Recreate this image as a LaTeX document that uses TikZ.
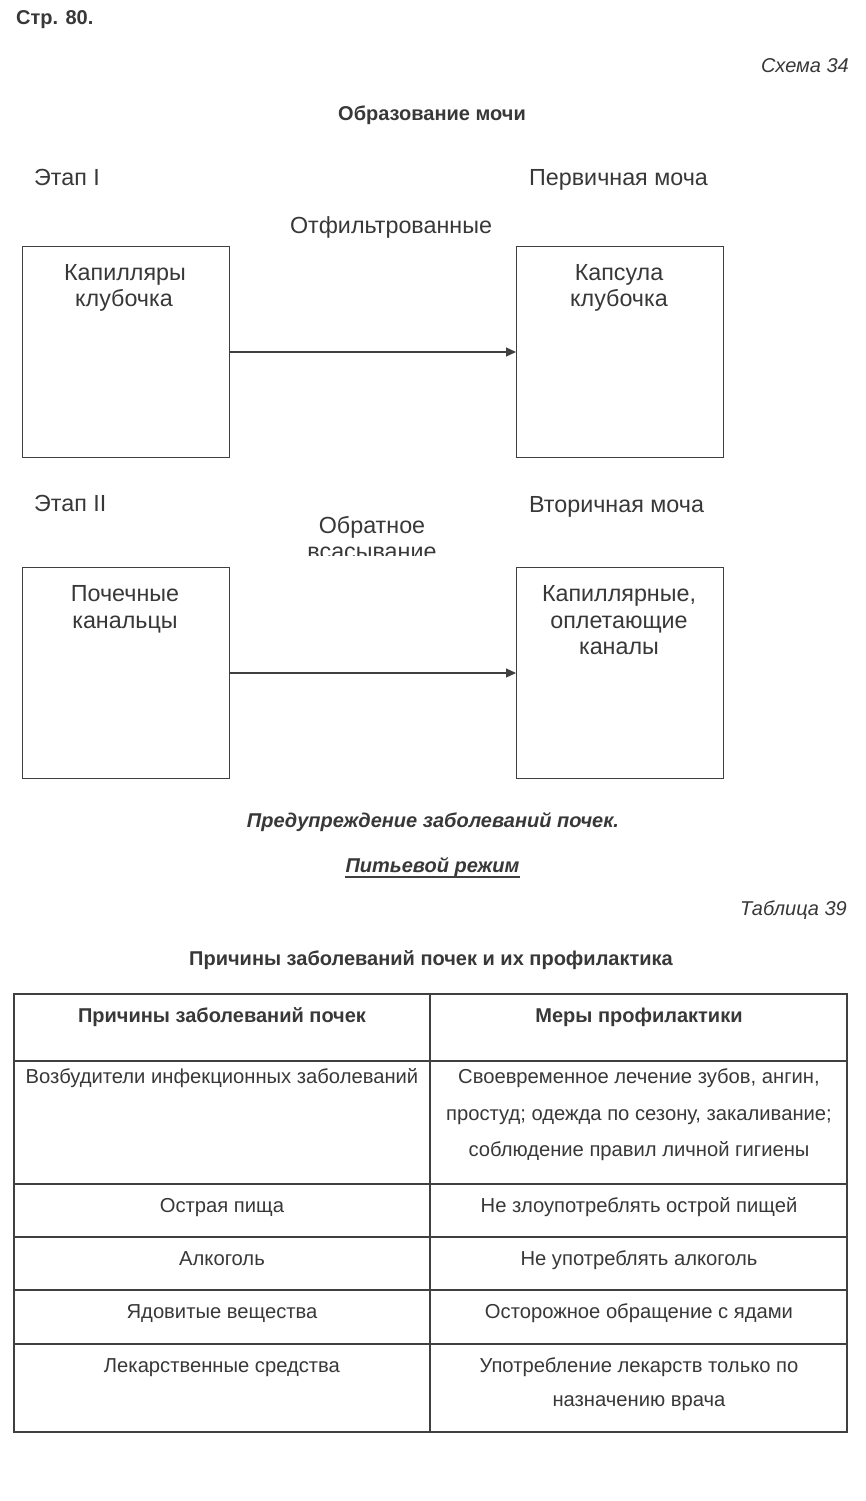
\documentclass[tikz,border=0pt]{standalone}
\usepackage{fontspec}
\setmainfont{Liberation Sans}
\usetikzlibrary{arrows.meta}
\definecolor{txt}{HTML}{383838}
\definecolor{ln}{HTML}{404040}
\begin{document}
\begin{tikzpicture}[x=1pt,y=-1pt,
  every node/.style={text=txt, inner sep=0pt},
  sch/.style={font=\fontsize{23.3}{27}\selectfont, anchor=base},
  bld/.style={font=\bfseries\fontsize{20}{24}\selectfont, anchor=base},
  itl/.style={font=\itshape\fontsize{20}{24}\selectfont, anchor=base east},
  bi/.style={font=\bfseries\itshape\fontsize{20}{24}\selectfont, anchor=base},
  cell/.style={font=\fontsize{20.2}{24}\selectfont, anchor=base},
  bx/.style={draw=ln, line width=1pt, anchor=north west, minimum width=207pt, minimum height=211pt},
  arr/.style={draw=ln, line width=1.2pt, -{Triangle[length=10pt,width=9pt]}},
  tline/.style={draw=ln, line width=2.5pt},
  vline/.style={draw=ln, line width=1.2pt}]
\useasboundingbox (0,0) rectangle (865,1501);
\fill[white] (0,0) rectangle (865,1501);

% header
\node[bld, anchor=base west] (page) at (16,25) {Стр. 80.};
\node[itl] (sch34) at (849,73) {Схема 34};
\node[bld] (title1) at (432,121) {Образование мочи};

% stage I
\node[sch, anchor=base west] (st1) at (34,185) {Этап I};
\node[sch, anchor=base west] (pm) at (529,185) {Первичная моча};
\node[sch] (flt) at (391,233) {Отфильтрованные};
\node[bx] (b1) at (22,246) {};
\node[bx] (b2) at (516,246) {};
\node[sch] (b1a) at (125,280) {Капилляры};
\node[sch] (b1b) at (124,306) {клубочка};
\node[sch] (b2a) at (619,280) {Капсула};
\node[sch] (b2b) at (619,306) {клубочка};
\draw[arr] (b1.east) -- (b2.west);

% stage II
\node[sch, anchor=base west] (st2) at (34,511) {Этап II};
\node[sch, anchor=base west] (vm) at (529,512) {Вторичная моча};
\begin{scope}
\clip (290,505) rectangle (460,555.5);
\node[sch] (obr) at (372,533) {Обратное};
\node[sch] (vsa) at (372,559) {всасывание};
\end{scope}
\node[bx] (b3) at (22,567) {};
\node[bx] (b4) at (516,567) {};
\node[sch] (b3a) at (125,601) {Почечные};
\node[sch] (b3b) at (125,628) {канальцы};
\node[sch] (b4a) at (619,601) {Капиллярные,};
\node[sch] (b4b) at (619,628) {оплетающие};
\node[sch] (b4c) at (619,654) {каналы};
\draw[arr] (b3.east) -- (b4.west);

% prevention
\node[bi] (prev) at (433,827) {Предупреждение заболеваний почек.};
\node[bi] (drink) at (432.5,872) {Питьевой режим};
\draw[ln, line width=2pt] ([yshift=-4.5pt]drink.base west) -- ([yshift=-4.5pt]drink.base east);
\node[itl] (tab39) at (847,915) {Таблица 39};
\node[bld] (title2) at (431,965) {Причины заболеваний почек и их профилактика};

% table grid
\coordinate (tl) at (14,994);
\coordinate (br) at (847,1432);
\coordinate (mt) at (430,994);
\coordinate (mb) at (430,1432);
\draw[tline] (tl) rectangle (br);
\foreach \yy in {1061,1184,1237,1290,1344}
  \draw[tline] (14,\yy) -- (847,\yy);
\draw[vline] (mt) -- (mb);

% table text
\node[bld] (h1) at (222,1022) {Причины заболеваний почек};
\node[bld] (h2) at (639,1022) {Меры профилактики};
\node[cell] (r1l) at (222,1083) {Возбудители инфекционных заболеваний};
\node[cell] (r1ra) at (639,1083) {Своевременное лечение зубов, ангин,};
\node[cell] (r1rb) at (639,1120) {простуд; одежда по сезону, закаливание;};
\node[cell] (r1rc) at (639,1156) {соблюдение правил личной гигиены};
\node[cell] (r2l) at (222,1212) {Острая пища};
\node[cell] (r2r) at (639,1212) {Не злоупотреблять острой пищей};
\node[cell] (r3l) at (222,1265) {Алкоголь};
\node[cell] (r3r) at (639,1265) {Не употреблять алкоголь};
\node[cell] (r4l) at (222,1318) {Ядовитые вещества};
\node[cell] (r4r) at (639,1318) {Осторожное обращение с ядами};
\node[cell] (r5l) at (222,1372) {Лекарственные средства};
\node[cell] (r5ra) at (639,1372) {Употребление лекарств только по};
\node[cell] (r5rb) at (639,1406) {назначению врача};
\end{tikzpicture}
\end{document}
